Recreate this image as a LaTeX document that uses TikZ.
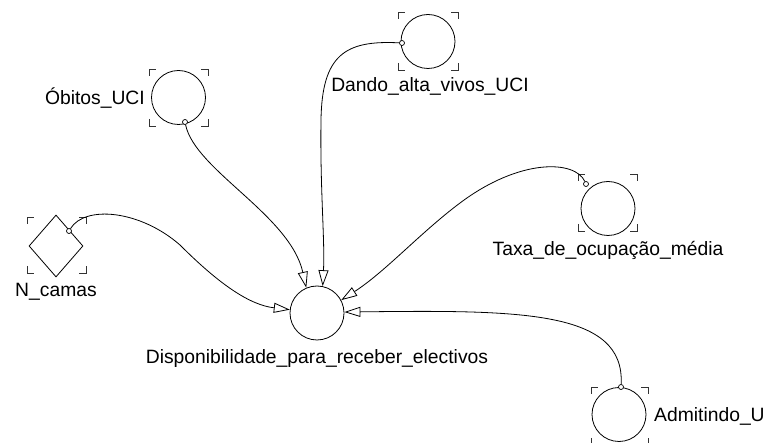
\documentclass[tikz,border=0pt]{standalone}
\usepackage{fontspec}
\setmainfont{Liberation Sans}
\usetikzlibrary{arrows.meta,shapes.geometric}

% corner marks round a variable: left, top, right, bottom
\newcommand\cornermarks[4]{%
  \draw[cornermark] ({#1},{#2+7}) -- ({#1},{#2}) -- ({#1+7},{#2});
  \draw[cornermark] ({#3-7},{#2}) -- ({#3},{#2}) -- ({#3},{#2+7});
  \draw[cornermark] ({#1},{#4-7}) -- ({#1},{#4}) -- ({#1+7},{#4});
  \draw[cornermark] ({#3-7},{#4}) -- ({#3},{#4}) -- ({#3},{#4-7});
}

\begin{document}
\begin{tikzpicture}[x=1pt,y=-1pt,
  var/.style={circle, draw, line width=0.8pt, minimum size=54pt, inner sep=0pt},
  const/.style={diamond, draw, line width=0.8pt, minimum width=54pt, minimum height=62pt, inner sep=0pt},
  port/.style={circle, draw, fill=white, line width=0.7pt, minimum size=5pt, inner sep=0pt},
  cornermark/.style={line width=0.8pt, black!80},
  lbl/.style={font=\fontsize{19.3}{22}\selectfont, inner sep=0pt},
  link/.style={line width=0.8pt, -{Triangle[open, length=16pt, width=10pt, line width=0.8pt]}}]
\useasboundingbox (0,0) rectangle (766,443);

% variables
\node[var] (disp) at (317,313) {};
\node[var] (obitos) at (178.5,97.5) {};
\node[var] (dando) at (428,41.5) {};
\node[var] (taxa) at (608,208.5) {};
\node[var] (admit) at (619,414.5) {};
\node[const] (ncamas) at (56,246) {};

% corner marks
\cornermarks{149}{69}{208}{126}
\cornermarks{398}{12}{458}{70}
\cornermarks{578}{174}{637}{231}
\cornermarks{591}{387}{648}{445}
\cornermarks{27}{217}{86}{273}

% labels
\node[lbl, anchor=base east] (lobitos) at (145,105) {Óbitos\_UCI};
\node[lbl, anchor=base] (ldando) at (430,92) {Dando\_alta\_vivos\_UCI};
\node[lbl, anchor=base] (lncamas) at (56,297) {N\_camas};
\node[lbl, anchor=base] (ldisp) at (317,364) {Disponibilidade\_para\_receber\_electivos};
\node[lbl, anchor=base] (ltaxa) at (608,256) {Taxa\_de\_ocupação\_média};
\node[lbl, anchor=base west] (ladmit) at (654,422) {Admitindo\_U};

% connector ports
\node[port] (pobitos) at (185,122) {};
\node[port] (pdando) at (402,43) {};
\node[port] (ptaxa) at (586,184) {};
\node[port] (padmit) at (621,387) {};
\node[port] (pncamas) at (69,231) {};

% connectors
\draw[link] (pobitos) .. controls (195,170) and (290,215) .. (disp.113);
\draw[link] (pdando) .. controls (345,40) and (322,55) .. (321,120)
  .. controls (320,190) and (325,240) .. (disp.78);
\draw[link] (ptaxa) .. controls (575,160) and (520,158) .. (460,203)
  .. controls (420,233) and (385,272) .. (disp.28);
\draw[link] (padmit) .. controls (625,310) and (520,310) .. (disp.2);
\draw[link] (pncamas) .. controls (85,205) and (140,210) .. (180,245)
  .. controls (220,285) and (250,305) .. (disp.173);
\end{tikzpicture}
\end{document}
